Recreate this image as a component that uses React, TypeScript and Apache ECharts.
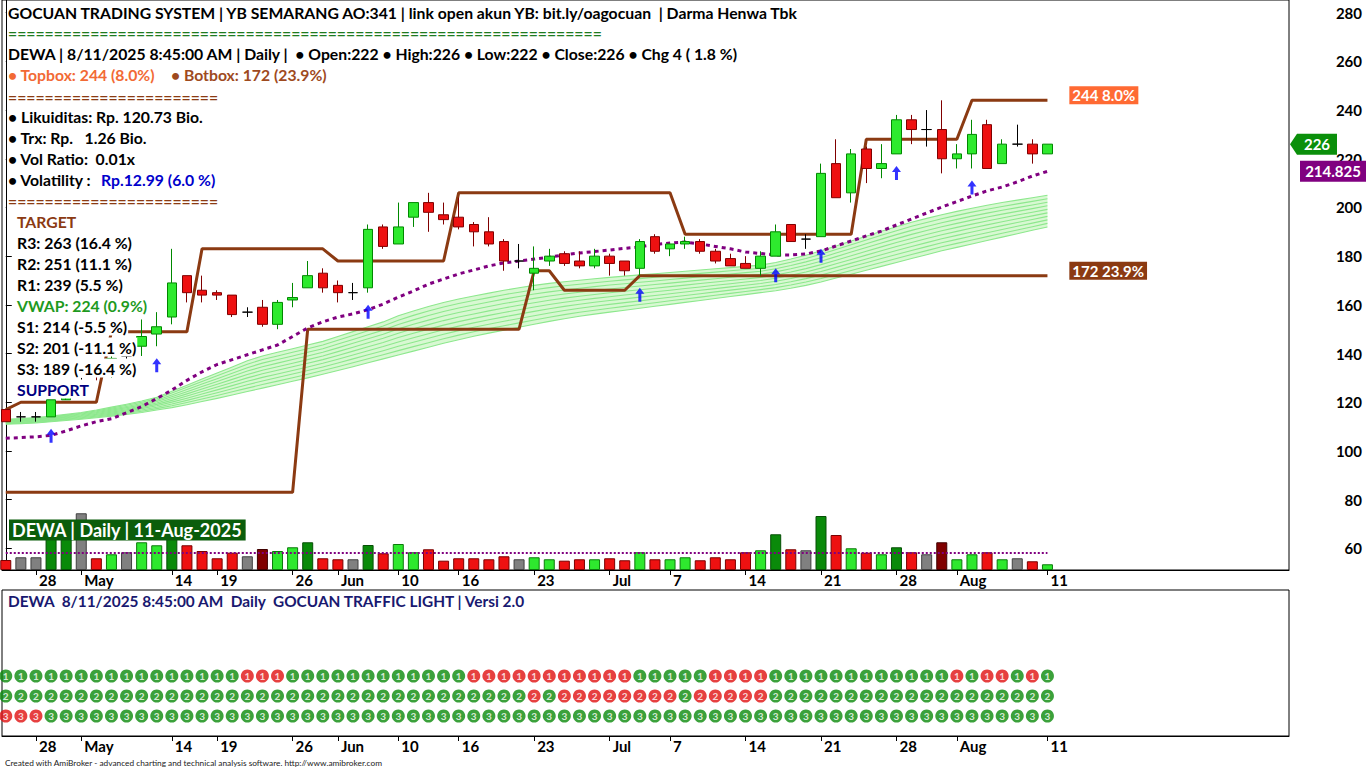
import React, { useEffect, useRef } from "react";
import * as echarts from "echarts";

// ---------------- DATA ----------------
const dates = [
  "2025-04-24","2025-04-25","2025-04-28","2025-04-29","2025-04-30",
  "2025-05-02","2025-05-05","2025-05-06","2025-05-07","2025-05-08","2025-05-09","2025-05-14","2025-05-15","2025-05-16","2025-05-19","2025-05-20","2025-05-21","2025-05-22","2025-05-23","2025-05-26","2025-05-27","2025-05-28",
  "2025-06-02","2025-06-03","2025-06-04","2025-06-05","2025-06-10","2025-06-11","2025-06-12","2025-06-13","2025-06-16","2025-06-17","2025-06-18","2025-06-19","2025-06-20","2025-06-23","2025-06-24","2025-06-25","2025-06-26","2025-06-30",
  "2025-07-01","2025-07-02","2025-07-03","2025-07-04","2025-07-07","2025-07-08","2025-07-09","2025-07-10","2025-07-11","2025-07-14","2025-07-15","2025-07-16","2025-07-17","2025-07-18","2025-07-21","2025-07-22","2025-07-23","2025-07-24","2025-07-25","2025-07-28","2025-07-29","2025-07-30","2025-07-31",
  "2025-08-01","2025-08-04","2025-08-05","2025-08-06","2025-08-07","2025-08-08","2025-08-11",
];

const opens = [
  117,114,114,114,121,128,134,131,139,143,
  148,155,172,166,165,164,157,159,152,162,
  167,173,168,165,167,192,185,196,202,197,
  196,193,190,186,178,173,178,181,178,176,
  180,178,175,188,183,185,186,182,179,177,
  175,180,193,187,188,218,206,224,216,222,
  236,232,232,220,222,234,218,226,226,222,
];
const highs = [
  117,116,116,121,128,130,136,139,141,154,
  157,183,172,172,166,164,159,162,162,169,
  178,175,170,169,193,193,202,202,206,202,
  204,194,196,187,185,184,183,182,182,183,
  181,178,187,189,185,188,187,183,181,180,
  182,193,193,189,218,228,224,225,226,238,
  238,240,244,226,236,236,228,234,228,226,
];
const lows = [
  112,112,112,114,122,126,129,130,137,139,
  143,152,161,161,162,155,155,151,150,159,
  167,165,161,162,165,183,185,192,190,193,
  191,184,184,174,175,166,176,176,175,175,
  172,172,172,181,180,183,181,177,176,175,
  172,180,186,183,188,204,202,210,212,222,
  226,225,214,216,216,216,218,225,218,222,
];
const closes = [
  112,114,114,121,127,128,131,138,139,147,
  151,169,165,164,164,156,157,152,161,163,
  172,167,165,165,191,184,192,202,198,195,
  192,190,185,178,178,175,180,177,176,180,
  177,174,186,182,185,186,182,178,176,175,
  180,190,186,187,214,204,222,216,218,236,
  232,232,220,222,230,216,226,226,222,226,
];

const volumes = [
  250,318,318,1050,1000,1418,293,393,443,693,
  618,800,618,475,293,433,343,525,475,568,
  693,293,268,268,625,418,650,443,518,233,
  293,293,268,343,268,318,268,233,268,268,
  293,243,443,268,268,318,243,318,268,443,
  493,893,518,493,1350,875,543,433,393,568,
  443,393,693,268,393,443,268,293,218,143,
];
// L light green, G dark green, R red, D dark red, Y gray
const volumeColorCodes =
  "RYYGGYRLYL" + "LGRRRRYDLL" + "GRRYGRLLRR" + "RRRRYLLRRL" +
  "RRLRLLRRRR" + "LGRYGRLRLG" + "RYDLLRLYRL";
const volumeAverage = 433;

const topBox = [
  117,120,120,120,120,120,120,149,149,149,
  149,149,149,183,183,183,183,183,183,183,
  183,183,178,178,178,178,178,178,178,178,
  206,206,206,206,206,206,206,206,206,206,
  206,206,206,206,206,189,189,189,189,189,
  189,189,189,189,189,189,189,228,228,228,
  228,228,228,228,244,244,244,244,244,244,
];
const botBox = [
  83,83,83,83,83,83,83,83,83,83,
  83,83,83,83,83,83,83,83,83,83,
  150,150,150,150,150,150,150,150,150,150,
  150,150,150,150,150,174,174,166,166,166,
  166,166,172,172,172,172,172,172,172,172,
  172,172,172,172,172,172,172,172,172,172,
  172,172,172,172,172,172,172,172,172,172,
];
const trendMA = [
  105.2,105.5,105.8,106.4,108.2,110.3,112,113.2,115.7,118.2,
  121.5,125,129,132.5,135.5,137.5,139.5,141.5,143.5,147,
  150.5,153,155,156.3,158,160.3,163.2,165.7,168.5,170.6,
  172.7,174.3,176,177.2,178,178.8,179.6,180.5,181.3,181.9,
  182.5,183.2,183.8,184.8,185.4,185.8,185,184,183,181.7,
  181.1,180.5,180.5,180.9,182.1,184.2,186.2,188.3,190.3,192.8,
  195.3,197.7,200.2,202.4,204.7,206.8,208.4,210.5,212.9,214.825,
];
const ribbonTop = [
  113,113.3,113.7,114.3,115,115.8,116.8,118,119.2,120.5,
  122,124.5,127,129.5,132,134.5,137,139,140.5,142,
  143.5,145,147,149,151,153,155.5,157.5,159.3,161,
  162.4,163.6,164.8,166,167,168,168.8,169.5,170.1,170.7,
  171.3,171.8,172.3,172.8,173.3,173.8,174.3,174.8,175.3,175.8,
  176.3,177.4,178.8,180.4,182.2,184.2,186.2,188.2,190.2,192.1,
  193.9,195.5,197,198.4,199.7,200.9,202,203,204,205,
];
const ribbonBottom = [
  111,111.2,111.5,112,112.5,113,113.6,114.3,115,115.8,
  116.8,117.8,119,120.3,121.6,123,124.4,125.8,127.2,128.6,
  130,131.5,133,134.6,136.2,137.8,139.4,141,142.6,144.2,
  145.7,147.1,148.4,149.6,150.8,152,153.2,154.3,155.3,156.2,
  157,157.8,158.6,159.4,160.2,161,161.8,162.6,163.4,164.2,
  165,165.8,166.8,168,169.4,171,172.6,174.2,175.8,177.4,
  179,180.6,182.2,183.6,185,186.4,187.8,189.2,190.6,192,
];
const buyArrowIdx = [3, 10, 24, 42, 51, 54, 59, 64];

const light1 = "GGGGGGGGGGGGGGGG" + "RRR" + "GGGGGGGGGGGG" + "RRRRRRRRRRR" + "GGGGG" + "RRRR" + "GGGGGGGGGGGG" + "RGRRGRG";
const light2 = "GGGGGGGGGGGGGGGGGGGGGGGGGGGGGGGGGGG" + "R" + "G" + "RRRRRRRR" + "G" + "RRRRR" + "GGGGGGGGGGGGGGGGGGG";
const light3 = "RRR" + "GGGGGGGGGGGGGGGGGGGGGGGGGGGGGGGGGGGGGGGGGGGGGGGGGGGGGGGGGGGGGGGGGGG";

const tickIdx = [2, 5, 11, 14, 19, 22, 26, 30, 35, 40, 44, 49, 54, 59, 63, 69];
const tickText = ["28", "May", "14", "19", "26", "Jun", "10", "16", "23", "Jul", "7", "14", "21", "28", "Aug", "11"];
const priceTicks = [60, 80, 100, 120, 140, 160, 180, 200, 220, 240, 260, 280];

const topboxLabel = "244 8.0%";
const botboxLabel = "172 23.9%";
const maLast = 214.825;

// ---------------- STYLE ----------------
const FONT = "Lato, 'Open Sans', sans-serif";
const TS = 15.75;
const BROWN = "#8B3A12";
const PURPLE = "#800080";
const AX_X = 1289;
const volFill: Record<string, string> = { L: "#2EE82E", G: "#0A8A0A", R: "#EE1111", D: "#800000", Y: "#808080" };
const volBorder: Record<string, string> = { L: "#0A7A0A", G: "#064F06", R: "#7A0000", D: "#400000", Y: "#404040" };
const ARROW = "path://M4.5,0 L9,6 L6,6 L6,14 L3,14 L3,6 L0,6 Z";

const tickFmt = (v: number) => {
  const k = tickIdx.indexOf(Math.round(v));
  return k >= 0 ? tickText[k] : "";
};

function txt(id: string, x: number, y: number, text: string, fill: string, o: any = {}) {
  const size = o.size || TS;
  return {
    type: "text", id, x, y, z: 100,
    style: {
      text, fill,
      font: `bold ${size}px ${FONT}`,
      textAlign: o.align || "left", align: o.align || "left",
      textVerticalAlign: "middle", verticalAlign: "middle",
      backgroundColor: o.bg === undefined ? "#fff" : o.bg,
      padding: o.padding || [2, 1, 1, 1],
    },
  };
}

function xAxisFor(gridIndex: number) {
  return {
    type: "value", gridIndex, min: -0.25, max: 85,
    splitLine: { show: false },
    axisLine: { show: true, onZero: false, lineStyle: { color: "#000", width: 1 } },
    axisTick: { show: true, customValues: tickIdx, length: 5, lineStyle: { color: "#000" } },
    axisLabel: {
      show: true, customValues: tickIdx, formatter: tickFmt,
      color: "#000", fontFamily: FONT, fontWeight: "bold", fontSize: 15,
      align: "left", margin: 2, padding: [0, 0, 0, 3],
    },
  };
}

export default function App() {
  const ref = useRef<HTMLDivElement>(null);
  useEffect(() => {
    if (!ref.current) return;
    const chart = echarts.init(ref.current, null, { renderer: "svg" });

    const idx = dates.map((_, i) => i);
    const lightData: any[] = [];
    [light1, light2, light3].forEach((row, r) => {
      for (let i = 0; i < row.length; i++) {
        lightData.push({
          value: [i, 3 - r], t: String(r + 1),
          itemStyle: { color: row[i] === "R" ? "#E01010" : "#0A8A0A" },
        });
      }
    });

    const texts: any[] = [
      txt("h1", 7, 12, "GOCUAN TRADING SYSTEM | YB SEMARANG AO:341 | link open akun YB: bit.ly/oagocuan  | Darma Henwa Tbk", "#000"),
      txt("h2", 7, 32, "=".repeat(65), "#1E7B1E"),
      txt("h3", 7, 53, "DEWA | 8/11/2025 8:45:00 AM | Daily |  • Open:222 • High:226 • Low:222 • Close:226 • Chg 4 ( 1.8 %)", "#000"),
      txt("h4a", 7, 74, "• Topbox: 244 (8.0%)", "#F26A35"),
      txt("h4b", 170, 74, "• Botbox: 172 (23.9%)", "#9E4A1E"),
      txt("h5", 7, 96, "=".repeat(23), BROWN),
      txt("h6", 7, 116, "• Likuiditas: Rp. 120.73 Bio.", "#000"),
      txt("h7", 7, 137, "• Trx: Rp.   1.26 Bio.", "#000"),
      txt("h8", 7, 158, "• Vol Ratio:  0.01x", "#000"),
      txt("h9a", 7, 179, "• Volatility :", "#000"),
      txt("h9b", 100, 179, "Rp.12.99 (6.0 %)", "#0000CC"),
      txt("h10", 7, 200, "=".repeat(23), BROWN),
      txt("s0", 16, 221, "TARGET", BROWN),
      txt("s1", 16, 242, "R3: 263 (16.4 %)", "#000"),
      txt("s2", 16, 263, "R2: 251 (11.1 %)", "#000"),
      txt("s3", 16, 284, "R1: 239 (5.5 %)", "#000"),
      txt("s4", 16, 305, "VWAP: 224 (0.9%)", "#1E9A1E"),
      txt("s5", 16, 326, "S1: 214 (-5.5 %)", "#000"),
      txt("s6", 16, 347, "S2: 201 (-11.1 %)", "#000"),
      txt("s7", 16, 368, "S3: 189 (-16.4 %)", "#000"),
      txt("s8", 16, 389, "SUPPORT", "#000080"),
      txt("vl", 9, 530, "DEWA | Daily | 11-Aug-2025", "#fff", { size: 18, bg: "#0B5D0B", padding: [2, 3, 1, 3] }),
      txt("p2", 7, 601, "DEWA  8/11/2025 8:45:00 AM  Daily  GOCUAN TRAFFIC LIGHT | Versi 2.0", "#191970", { size: 15.4 }),
      {
        type: "text", id: "foot", x: 5, y: 763, z: 100,
        style: {
          text: "Created with AmiBroker - advanced charting and technical analysis software. http://www.amibroker.com",
          fill: "#222", font: `8.3px ${FONT}`, textVerticalAlign: "middle", verticalAlign: "middle",
        },
      },
    ];

    const option: any = {
      animation: false,
      backgroundColor: "#fff",
      grid: [
        { left: 2, right: 77, top: 0, height: 570, show: true, borderColor: "#000", borderWidth: 1 },
        { left: 2, right: 77, top: 590, height: 146, show: true, borderColor: "#000", borderWidth: 1 },
      ],
      xAxis: [xAxisFor(0), xAxisFor(1)],
      yAxis: [
        {
          type: "value", gridIndex: 0, position: "right", min: 51.1, max: 285.2,
          splitLine: { show: false },
          axisLine: { show: true, lineStyle: { color: "#000" } },
          axisTick: { show: true, customValues: priceTicks, length: 6, lineStyle: { color: "#000" } },
          axisLabel: {
            customValues: priceTicks, align: "right", margin: 73,
            color: "#000", fontFamily: FONT, fontWeight: "bold", fontSize: 15,
          },
        },
        { type: "value", gridIndex: 0, min: 0, max: 14250, show: false },
        { type: "value", gridIndex: 1, min: 0, max: 7.3, show: false },
      ],
      series: [
        {
          type: "custom", xAxisIndex: 0, yAxisIndex: 0, z: 1, silent: true,
          data: [[0, ribbonTop[0]]],
          renderItem: (params: any, api: any) => {
            const top = ribbonTop.map((v, i) => api.coord([i, v]));
            const bot = ribbonBottom.map((v, i) => api.coord([i, v]));
            const children: any[] = [
              { type: "polygon", shape: { points: [...top, ...bot.slice().reverse()] }, style: { fill: "#D8F8D2" } },
            ];
            const n = 9;
            for (let k = 0; k <= n; k++) {
              const f = k / n;
              children.push({
                type: "polyline",
                shape: { points: top.map((p: number[], i: number) => [p[0], p[1] + (bot[i][1] - p[1]) * f]) },
                style: { stroke: "#8DE88D", lineWidth: 1.1, fill: null },
              });
            }
            return { type: "group", children };
          },
        },
        {
          type: "line", xAxisIndex: 0, yAxisIndex: 0, symbol: "none", z: 3,
          data: idx.map((i) => [i, topBox[i]]),
          lineStyle: { color: BROWN, width: 3 },
        },
        {
          type: "line", xAxisIndex: 0, yAxisIndex: 0, symbol: "none", z: 3,
          data: idx.map((i) => [i, botBox[i]]),
          lineStyle: { color: BROWN, width: 3 },
        },
        {
          type: "line", xAxisIndex: 0, yAxisIndex: 0, symbol: "none", z: 3,
          data: idx.map((i) => [i, trendMA[i]]),
          lineStyle: { color: PURPLE, width: 3, type: [4, 4] },
        },
        {
          type: "bar", xAxisIndex: 0, yAxisIndex: 1, barWidth: 11, z: 2,
          data: idx.map((i) => ({
            value: [i, volumes[i]],
            itemStyle: { color: volFill[volumeColorCodes[i]], borderColor: volBorder[volumeColorCodes[i]], borderWidth: 1 },
          })),
          markLine: {
            silent: true, symbol: "none", label: { show: false },
            lineStyle: { color: PURPLE, type: "dotted", width: 2 },
            data: [[{ coord: [0, volumeAverage] }, { coord: [69, volumeAverage] }]],
          },
        },
        {
          type: "candlestick", xAxisIndex: 0, yAxisIndex: 0, z: 4, barWidth: 10,
          encode: { x: 0, y: [1, 2, 3, 4] },
          data: idx.map((i) => [i, opens[i], closes[i], lows[i], highs[i]]),
          itemStyle: {
            color: "#2EEA2E", color0: "#EE1111",
            borderColor: "#008800", borderColor0: "#800000",
            borderColorDoji: "#000", borderWidth: 1,
          },
        },
        {
          type: "scatter", xAxisIndex: 0, yAxisIndex: 0, z: 5,
          data: buyArrowIdx.map((i) => [i, lows[i]]),
          symbol: ARROW, symbolSize: [9, 14], symbolOffset: [0, 19],
          itemStyle: { color: "#0000FF" },
        },
        {
          type: "scatter", xAxisIndex: 1, yAxisIndex: 2, z: 5,
          symbolSize: 13, data: lightData,
          label: {
            show: true, position: "inside", formatter: (p: any) => p.data.t,
            color: "#fff", fontFamily: FONT, fontWeight: "bold", fontSize: 10,
          },
        },
      ],
      graphic: texts,
    };

    chart.setOption(option);

    const py = (v: number) => chart.convertToPixel({ yAxisIndex: 0 } as any, v) as number;
    const px = (v: number) => chart.convertToPixel({ xAxisIndex: 0 } as any, v) as number;
    const yc = py(closes[closes.length - 1]);
    const ym = py(maLast);
    const tags: any[] = [
      {
        type: "polygon", id: "ctag",
        shape: { points: [[AX_X + 1, yc], [AX_X + 8, yc - 10.5], [AX_X + 48, yc - 10.5], [AX_X + 48, yc + 10.5], [AX_X + 8, yc + 10.5]] },
        style: { fill: "#0A8F0A" },
      },
      txt("ctxt", AX_X + 28, yc, String(closes[closes.length - 1]), "#fff", { align: "center", bg: "transparent", padding: [0, 0, 0, 0], size: 15 }),
      {
        type: "rect", id: "mtag",
        shape: { x: AX_X + 11, y: ym - 10.5, width: 66, height: 21 },
        style: { fill: PURPLE },
      },
      txt("mtxt", AX_X + 44, ym, String(maLast), "#fff", { align: "center", bg: "transparent", padding: [0, 0, 0, 0], size: 15 }),
      txt("tb", px(70.45), py(topBox[69]) - 5, topboxLabel, "#fff", { bg: "#FF6A33", padding: [2, 3, 1, 3], size: 15 }),
      txt("bb", px(70.45), py(botBox[69]) - 5, botboxLabel, "#fff", { bg: BROWN, padding: [2, 3, 1, 3], size: 15 }),
    ];
    tags.forEach((t) => (t.z = 120));
    chart.setOption({ graphic: [...texts, ...tags] });

    return () => chart.dispose();
  }, []);
  return <div ref={ref} style={{ position: "fixed", left: 0, top: 0, width: 1366, height: 768 }} />;
}
